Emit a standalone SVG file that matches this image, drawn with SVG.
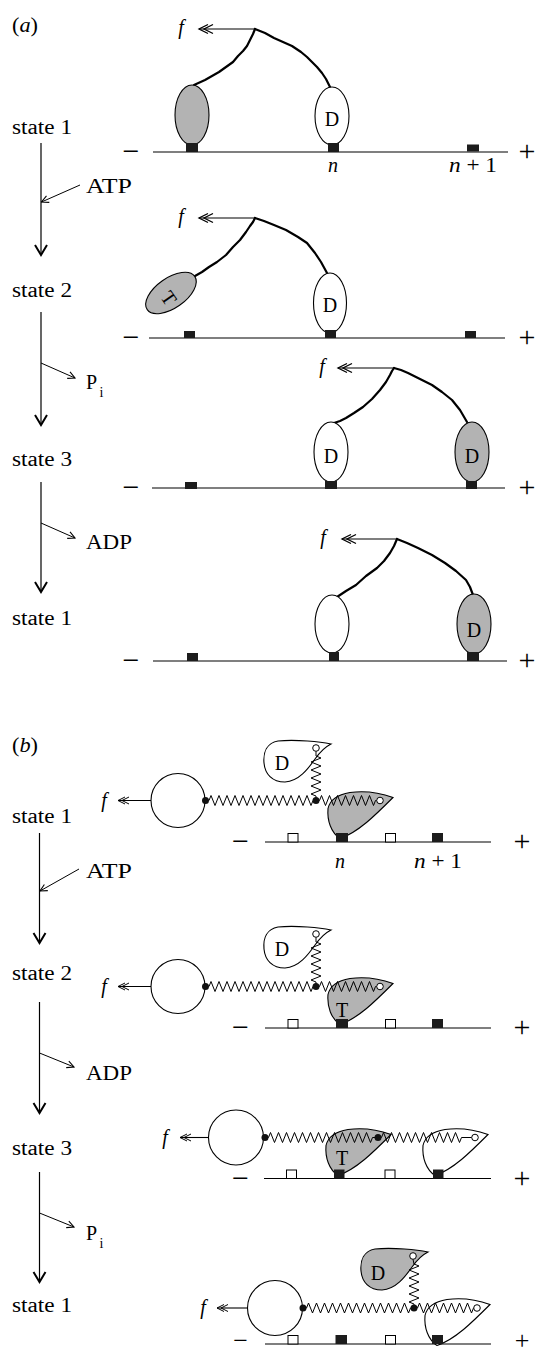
<svg xmlns="http://www.w3.org/2000/svg" width="537" height="1356" viewBox="0 0 537 1356">
<style>
  text { font-family: "Liberation Serif", "Times New Roman", serif; font-size: 20px; fill: #000; }
  .it { font-style: italic; }
  .mid { text-anchor: middle; }
  .sign { font-size: 30px; text-anchor: middle; }
  .sign-low { font-size: 26px; text-anchor: middle; }
  .sub { font-size: 14px; }
  .track { stroke: #000; stroke-width: 1.2; fill: none; }
  .site { fill: #1c1c1c; }
  .vacant { fill: #fff; stroke: #000; stroke-width: 1; }
  .neck { fill: none; stroke: #000; stroke-width: 2.2; stroke-linejoin: round; stroke-linecap: round; }
  .head-w { fill: #fff; stroke: #000; stroke-width: 1.1; }
  .head-g { fill: #b3b3b3; stroke: #000; stroke-width: 1.1; }
  .cargo { fill: #fff; stroke: #000; stroke-width: 1.1; }
  .spring { fill: none; stroke: #000; stroke-width: 1; }
  .hinge { fill: #111; }
  .ring { fill: #fff; stroke: #000; stroke-width: 1; }
  .force { stroke: #000; stroke-width: 1.1; fill: none; }
  .step { stroke: #000; stroke-width: 1.2; fill: none; }
  .release { stroke: #000; stroke-width: 1; fill: none; }
</style>
<defs>
  <marker id="ah-step" viewBox="-12 -8 14 16" refX="0" refY="0" markerWidth="14" markerHeight="16" markerUnits="userSpaceOnUse" orient="auto">
    <path d="M-10,-6 L0,0 L-10,6" fill="none" stroke="#000" stroke-width="2"/>
  </marker>
  <marker id="ah-small" viewBox="-9 -5 10 10" refX="0" refY="0" markerWidth="10" markerHeight="10" markerUnits="userSpaceOnUse" orient="auto">
    <path d="M-7,-3.5 L0,0 L-7,3.5" fill="none" stroke="#000" stroke-width="1.1"/>
  </marker>
  <marker id="ah-f" viewBox="-16 -6 18 12" refX="0" refY="0" markerWidth="18" markerHeight="12" markerUnits="userSpaceOnUse" orient="auto">
    <path d="M-9,-4.5 L0,0 L-9,4.5 M-14,-4.5 L-5,0 L-14,4.5" fill="none" stroke="#000" stroke-width="1.3"/>
  </marker>
  <marker id="ah-f2" viewBox="-13 -5 14 10" refX="0" refY="0" markerWidth="14" markerHeight="10" markerUnits="userSpaceOnUse" orient="auto">
    <path d="M-7,-3.5 L0,0 L-7,3.5 M-11,-3.5 L-4,0 L-11,3.5" fill="none" stroke="#000" stroke-width="1"/>
  </marker>
  <!-- motor head, origin at its nucleotide site -->
  <path id="headB" d="M13,-3 C2,-7 -15,-10 -30,-8 C-42,-6 -50,-1 -52,8 C-53,20 -49,32 -40,38 C-22,32 -5,15 13,-3 Z"/>
  <path id="headF" d="M15,-4 C5,-6 -20,-9 -38,-7 C-49,-5 -53,4 -52,15 C-51,26 -44,34 -31,34 C-17,33 -8,21 -1,11 C4,4 9,-1 15,-4 Z"/>
</defs>

<!-- panel labels -->
<text x="12" y="32" textLength="26" lengthAdjust="spacingAndGlyphs">(<tspan class="it">a</tspan>)</text>
<text x="12" y="752" textLength="26" lengthAdjust="spacingAndGlyphs">(<tspan class="it">b</tspan>)</text>

<!-- ===== (a) two-headed motor on rigid necks ===== -->
<g id="a-state1">
  <text x="12" y="134" textLength="60" lengthAdjust="spacingAndGlyphs">state 1</text>
  <text class="sign" x="131" y="161">−</text>
  <line class="track" x1="153" y1="152" x2="508" y2="152"/>
  <text class="sign" x="527" y="161">+</text>
  <path class="neck" d="M194,85 L205,80 L212,76 L219,72 L226,67 L233,62 L238,56 L243,51 L247,46 L250,40 L253,34 L255,29"/>
  <path class="neck" d="M255,29 L265,33 L274,38 L283,42 L292,46 L301,52 L307,57 L312,62 L317,67 L322,73 L326,79 L330,87"/>
  <line class="force" x1="255" y1="29" x2="199" y2="29" marker-end="url(#ah-f)"/>
  <text class="it mid" x="181" y="34">f</text>
  <ellipse class="head-g" cx="192" cy="115" rx="17" ry="30"/>
  <ellipse class="head-w" cx="332" cy="116" rx="17" ry="29"/>
  <text class="mid" x="332" y="126">D</text>
  <rect class="site" x="186" y="143" width="12" height="9"/>
  <rect class="site" x="328" y="143" width="11" height="9"/>
  <rect class="site" x="467" y="144.5" width="12" height="7"/>
  <text class="it mid" x="333" y="172">n</text>
  <text class="mid" x="473" y="172" textLength="48" lengthAdjust="spacingAndGlyphs"><tspan class="it">n</tspan> + 1</text>
</g>

<g id="a-state2">
  <text x="12" y="297" textLength="60" lengthAdjust="spacingAndGlyphs">state 2</text>
  <text class="sign" x="131" y="347">−</text>
  <line class="track" x1="149" y1="338" x2="505" y2="338"/>
  <text class="sign" x="527" y="347">+</text>
  <path class="neck" d="M195,276 L202,272 L209,267 L217,262 L226,255 L233,247 L240,240 L246,232 L250,226 L253,222 L255,218"/>
  <path class="neck" d="M255,218 L264,221 L274,225 L286,230 L298,237 L307,243 L315,253 L321,262 L327,273"/>
  <line class="force" x1="255" y1="218" x2="199" y2="218" marker-end="url(#ah-f)"/>
  <text class="it mid" x="181" y="223">f</text>
  <ellipse class="head-g" cx="171" cy="293" rx="29" ry="15" transform="rotate(-35 171 293)"/>
  <text class="mid" x="169" y="305" transform="rotate(55 169 298)">T</text>
  <ellipse class="head-w" cx="330" cy="303" rx="16.5" ry="30"/>
  <text class="mid" x="330" y="312">D</text>
  <rect class="site" x="184" y="331" width="11" height="7"/>
  <rect class="site" x="325" y="330" width="11" height="8"/>
  <rect class="site" x="465" y="331" width="11" height="7"/>
</g>

<g id="a-state3">
  <text x="12" y="466" textLength="60" lengthAdjust="spacingAndGlyphs">state 3</text>
  <text class="sign" x="131" y="497">−</text>
  <line class="track" x1="152" y1="488" x2="505" y2="488"/>
  <text class="sign" x="527" y="497">+</text>
  <path class="neck" d="M334,423 L340,421 L346,418 L354,413 L363,407 L372,399 L380,390 L386,382 L390,375 L392,371 L394,368"/>
  <path class="neck" d="M394,368 L401,370 L408,373 L420,379 L432,385 L442,392 L452,400 L460,410 L467,422"/>
  <line class="force" x1="394" y1="368" x2="338" y2="368" marker-end="url(#ah-f)"/>
  <text class="it mid" x="322" y="373">f</text>
  <ellipse class="head-w" cx="331" cy="452" rx="17" ry="30"/>
  <text class="mid" x="331" y="463">D</text>
  <ellipse class="head-g" cx="472" cy="452" rx="17" ry="30"/>
  <text class="mid" x="472" y="463">D</text>
  <rect class="site" x="185" y="482" width="12" height="7"/>
  <rect class="site" x="325" y="481" width="12" height="8"/>
  <rect class="site" x="466" y="481" width="11" height="8"/>
</g>

<g id="a-state1-return">
  <text x="12" y="625" textLength="60" lengthAdjust="spacingAndGlyphs">state 1</text>
  <text class="sign" x="131" y="670">−</text>
  <line class="track" x1="153" y1="661" x2="507" y2="661"/>
  <text class="sign" x="527" y="670">+</text>
  <path class="neck" d="M337,597 L346,591 L356,585 L366,576 L377,568 L384,561 L390,553 L394,546 L397,539"/>
  <path class="neck" d="M397,539 L407,543 L418,548 L432,555 L445,563 L456,571 L466,580 L470,587 L473,595"/>
  <line class="force" x1="397" y1="539" x2="342" y2="539" marker-end="url(#ah-f)"/>
  <text class="it mid" x="323" y="544">f</text>
  <ellipse class="head-w" cx="332" cy="624" rx="17" ry="29"/>
  <ellipse class="head-g" cx="474" cy="624" rx="17" ry="30"/>
  <text class="mid" x="474" y="637">D</text>
  <rect class="site" x="187" y="653" width="11" height="8"/>
  <rect class="site" x="329" y="652" width="10" height="9"/>
  <rect class="site" x="467" y="652" width="12" height="9"/>
</g>

<!-- ===== (b) motor with elastic linkers ===== -->
<g id="b-state1">
  <text x="12" y="823" textLength="60" lengthAdjust="spacingAndGlyphs">state 1</text>
  <text class="sign" x="240.5" y="851">−</text>
  <line class="track" x1="265" y1="842" x2="491" y2="842"/>
  <text class="sign" x="522" y="851">+</text>
  <use href="#headF" class="head-w" transform="translate(316,748)"/>
  <text class="mid" x="282" y="770">D</text>
  <use href="#headB" class="head-g" transform="translate(380,800.5)"/>
  <circle class="cargo" cx="178" cy="800.5" r="27"/>
  <line class="force" x1="151" y1="800.5" x2="118" y2="800.5" marker-end="url(#ah-f2)"/>
  <text class="it mid" x="104" y="807">f</text>
  <path class="spring" d="M205.5,800.5 L209,800.5 l2,-5 l4,10 l4,-10 l4,10 l4,-10 l4,10 l4,-10 l4,10 l4,-10 l4,10 l4,-10 l4,10 l4,-10 l4,10 l4,-10 l4,10 l4,-10 l4,10 l4,-10 l4,10 l4,-10 l4,10 l4,-10 l4,10 l4,-10 l4,10 l2,-5 L316,800.5"/>
  <path class="spring" d="M316,800.5 L316,796 l-5,-2 l10,-4 l-10,-4 l10,-4 l-10,-4 l10,-4 l-10,-4 l10,-4 l-10,-4 l10,-4 l-5,-2 L316,751.3"/>
  <path class="spring" d="M316,800.5 L319.5,800.5 l2,-5 l4,10 l4,-10 l4,10 l4,-10 l4,10 l4,-10 l4,10 l4,-10 l4,10 l4,-10 l4,10 l4,-10 l4,10 l2,-5 L376.7,800.5"/>
  <circle class="ring" cx="316" cy="748" r="3.3"/>
  <circle class="ring" cx="380" cy="800.5" r="3.3"/>
  <circle class="hinge" cx="205.5" cy="800.5" r="3.5"/>
  <circle class="hinge" cx="316" cy="800.5" r="3.5"/>
  <rect class="vacant" x="288" y="833.5" width="10" height="8.5"/>
  <rect class="site" x="336" y="833" width="12" height="9"/>
  <rect class="vacant" x="385.5" y="833.5" width="10" height="8.5"/>
  <rect class="site" x="432" y="833" width="11" height="9"/>
  <text class="it mid" x="340" y="868">n</text>
  <text class="mid" x="438" y="868" textLength="48" lengthAdjust="spacingAndGlyphs"><tspan class="it">n</tspan> + 1</text>
</g>

<g id="b-state2">
  <text x="12" y="980" textLength="60" lengthAdjust="spacingAndGlyphs">state 2</text>
  <g transform="translate(0,186)">
    <text class="sign" x="240.5" y="851">−</text>
    <line class="track" x1="265" y1="842" x2="491" y2="842"/>
    <text class="sign" x="522" y="851">+</text>
    <use href="#headF" class="head-w" transform="translate(316,748)"/>
    <text class="mid" x="282" y="770">D</text>
    <use href="#headB" class="head-g" transform="translate(380,800.5)"/>
    <text class="mid" x="342" y="831">T</text>
    <circle class="cargo" cx="178" cy="800.5" r="27"/>
    <line class="force" x1="151" y1="800.5" x2="118" y2="800.5" marker-end="url(#ah-f2)"/>
    <text class="it mid" x="104" y="807">f</text>
    <path class="spring" d="M205.5,800.5 L209,800.5 l2,-5 l4,10 l4,-10 l4,10 l4,-10 l4,10 l4,-10 l4,10 l4,-10 l4,10 l4,-10 l4,10 l4,-10 l4,10 l4,-10 l4,10 l4,-10 l4,10 l4,-10 l4,10 l4,-10 l4,10 l4,-10 l4,10 l4,-10 l4,10 l2,-5 L316,800.5"/>
    <path class="spring" d="M316,800.5 L316,796 l-5,-2 l10,-4 l-10,-4 l10,-4 l-10,-4 l10,-4 l-10,-4 l10,-4 l-10,-4 l10,-4 l-5,-2 L316,751.3"/>
    <path class="spring" d="M316,800.5 L319.5,800.5 l2,-5 l4,10 l4,-10 l4,10 l4,-10 l4,10 l4,-10 l4,10 l4,-10 l4,10 l4,-10 l4,10 l4,-10 l4,10 l2,-5 L376.7,800.5"/>
    <circle class="ring" cx="316" cy="748" r="3.3"/>
    <circle class="ring" cx="380" cy="800.5" r="3.3"/>
    <circle class="hinge" cx="205.5" cy="800.5" r="3.5"/>
    <circle class="hinge" cx="316" cy="800.5" r="3.5"/>
    <rect class="vacant" x="288" y="833.5" width="10" height="8.5"/>
    <rect class="site" x="336" y="833" width="12" height="9"/>
    <rect class="vacant" x="385.5" y="833.5" width="10" height="8.5"/>
    <rect class="site" x="432" y="833" width="11" height="9"/>
  </g>
</g>

<g id="b-state3">
  <text x="12" y="1155" textLength="60" lengthAdjust="spacingAndGlyphs">state 3</text>
  <text class="sign" x="240.5" y="1187.5">−</text>
  <line class="track" x1="264" y1="1178.5" x2="491" y2="1178.5"/>
  <text class="sign" x="522" y="1187.5">+</text>
  <use href="#headB" class="head-g" transform="translate(378,1137.5)"/>
  <text class="mid" x="342" y="1165">T</text>
  <use href="#headB" class="head-w" transform="translate(475,1137.5)"/>
  <circle class="cargo" cx="236" cy="1137.5" r="27.5"/>
  <line class="force" x1="208.5" y1="1137.5" x2="180" y2="1137.5" marker-end="url(#ah-f2)"/>
  <text class="it mid" x="165" y="1144">f</text>
  <path class="spring" d="M265,1137.5 L268.5,1137.5 l2,-5 l4,10 l4,-10 l4,10 l4,-10 l4,10 l4,-10 l4,10 l4,-10 l4,10 l4,-10 l4,10 l4,-10 l4,10 l4,-10 l4,10 l4,-10 l4,10 l4,-10 l4,10 l4,-10 l4,10 l4,-10 l4,10 l4,-10 l4,10 l2,-5 L378,1137.5"/>
  <path class="spring" d="M378,1137.5 L381.5,1137.5 l2,-5 l4,10 l4,-10 l4,10 l4,-10 l4,10 l4,-10 l4,10 l4,-10 l4,10 l4,-10 l4,10 l4,-10 l4,10 l4,-10 l4,10 l4,-10 l4,10 l4,-10 l4,10 l2,-5 L471.7,1137.5"/>
  <circle class="ring" cx="475" cy="1137.5" r="3.3"/>
  <circle class="hinge" cx="265" cy="1137.5" r="3.5"/>
  <circle class="hinge" cx="378" cy="1137.5" r="3.5"/>
  <rect class="vacant" x="286.5" y="1170" width="10" height="8.5"/>
  <rect class="site" x="334" y="1169.5" width="10.5" height="9"/>
  <rect class="vacant" x="385" y="1170" width="10" height="8.5"/>
  <rect class="site" x="433" y="1169.5" width="10.5" height="9"/>
</g>

<g id="b-state1-return">
  <text x="12" y="1312" textLength="60" lengthAdjust="spacingAndGlyphs">state 1</text>
  <text class="sign-low" x="240.5" y="1349">−</text>
  <line class="track" x1="265" y1="1344" x2="491" y2="1344"/>
  <text class="sign-low" x="522" y="1349">+</text>
  <use href="#headF" class="head-g" transform="translate(413,1256)"/>
  <text class="mid" x="378" y="1280">D</text>
  <use href="#headB" class="head-w" transform="translate(477,1307.5)"/>
  <circle class="cargo" cx="275" cy="1308" r="27.5"/>
  <line class="force" x1="247.5" y1="1308" x2="217" y2="1308" marker-end="url(#ah-f2)"/>
  <text class="it mid" x="203" y="1314">f</text>
  <path class="spring" d="M303,1308 L306.5,1308 l2,-5 l4,10 l4,-10 l4,10 l4,-10 l4,10 l4,-10 l4,10 l4,-10 l4,10 l4,-10 l4,10 l4,-10 l4,10 l4,-10 l4,10 l4,-10 l4,10 l4,-10 l4,10 l4,-10 l4,10 l4,-10 l4,10 l4,-10 l4,10 l2,-5 L414,1308"/>
  <path class="spring" d="M414,1308 L414,1304 l-5,-2 l10,-4 l-10,-4 l10,-4 l-10,-4 l10,-4 l-10,-4 l10,-4 l-10,-4 l10,-4 l-5,-2 L413,1259.3"/>
  <path class="spring" d="M414,1308 L417.5,1308 l2,-5 l4,10 l4,-10 l4,10 l4,-10 l4,10 l4,-10 l4,10 l4,-10 l4,10 l4,-10 l4,10 l4,-10 l4,10 l2,-5 L473.7,1308"/>
  <circle class="ring" cx="413" cy="1256" r="3.3"/>
  <circle class="ring" cx="477" cy="1308" r="3.3"/>
  <circle class="hinge" cx="303" cy="1308" r="3.5"/>
  <circle class="hinge" cx="414" cy="1308" r="3.5"/>
  <rect class="vacant" x="288" y="1335.5" width="10" height="8.5"/>
  <rect class="site" x="335.5" y="1335" width="11.5" height="9"/>
  <rect class="vacant" x="385.5" y="1335.5" width="10" height="8.5"/>
  <rect class="site" x="432" y="1335" width="11" height="9"/>
</g>

<!-- ===== reaction steps ===== -->
<g id="connectors">
  <line class="step" x1="41" y1="143" x2="41" y2="255" marker-end="url(#ah-step)"/>
  <line class="release" x1="80" y1="185" x2="41.5" y2="202" marker-end="url(#ah-small)"/>
  <line class="step" x1="41" y1="312" x2="41" y2="425" marker-end="url(#ah-step)"/>
  <line class="release" x1="41" y1="363" x2="75" y2="378" marker-end="url(#ah-small)"/>
  <line class="step" x1="41" y1="482" x2="41" y2="592" marker-end="url(#ah-step)"/>
  <line class="release" x1="41" y1="523" x2="75" y2="538" marker-end="url(#ah-small)"/>

  <line class="step" x1="39.5" y1="833" x2="39.5" y2="943" marker-end="url(#ah-step)"/>
  <line class="release" x1="79" y1="869" x2="40" y2="891" marker-end="url(#ah-small)"/>
  <line class="step" x1="39.5" y1="1002" x2="39.5" y2="1113" marker-end="url(#ah-step)"/>
  <line class="release" x1="39.5" y1="1053" x2="74" y2="1067" marker-end="url(#ah-small)"/>
  <line class="step" x1="39.5" y1="1172" x2="39.5" y2="1282" marker-end="url(#ah-step)"/>
  <line class="release" x1="39.5" y1="1213" x2="74" y2="1227" marker-end="url(#ah-small)"/>
</g>
<g id="step-labels">
  <text x="86" y="193" textLength="46" lengthAdjust="spacingAndGlyphs">ATP</text>
  <text x="86" y="389">P</text><text class="sub" x="99.5" y="397">i</text>
  <text x="86" y="549" textLength="46" lengthAdjust="spacingAndGlyphs">ADP</text>
  <text x="86" y="878" textLength="46" lengthAdjust="spacingAndGlyphs">ATP</text>
  <text x="86" y="1080" textLength="46" lengthAdjust="spacingAndGlyphs">ADP</text>
  <text x="86" y="1240">P</text><text class="sub" x="99.5" y="1248">i</text>
</g>
</svg>
